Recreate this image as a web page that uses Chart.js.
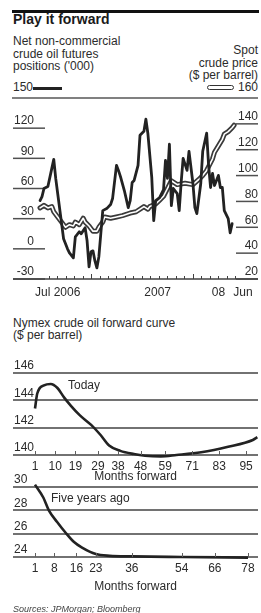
<!DOCTYPE html>
<html>
<head>
<meta charset="utf-8">
<script src="https://cdn.jsdelivr.net/npm/chart.js@4.4.1/dist/chart.umd.min.js"></script>
<style>
  body { margin: 0; background: #fff; width: 261px; height: 613px; position: relative; overflow: hidden;
         font-family: "Liberation Sans", Arial, sans-serif; color: #2b2b2b; }
  .t { position: absolute; white-space: nowrap; font-size: 12px; line-height: 12.6px; }
  .box { position: absolute; left: 0; width: 261px; }
</style>
</head>
<body>
<div style="position:absolute;left:12px;top:10px;width:247px;height:2.5px;background:#111"></div>
<div class="t" style="left:13px;top:11px;font-size:14px;font-weight:bold;line-height:16px;color:#1a1a1a">Play it forward</div>
<div class="t" style="left:13px;top:35px">Net non-commercial<br>crude oil futures<br>positions ('000)</div>
<div class="t" style="right:3px;top:44px;text-align:right">Spot<br>crude price<br>($ per barrel)</div>
<div class="t" style="left:13px;top:81px">150</div>
<div style="position:absolute;left:33px;top:87px;width:29px;height:3px;background:#222"></div>
<div style="position:absolute;left:207px;top:85px;width:25px;height:3px;border:1.5px solid #333;border-radius:3px"></div>
<div class="t" style="right:3px;top:81px">160</div>
<div class="box" style="top:80px;height:225px"><canvas id="futures"></canvas></div>

<div class="t" style="left:13px;top:317px;line-height:12px">Nymex crude oil forward curve<br>($ per barrel)</div>
<div class="box" style="top:355px;height:130px"><canvas id="today"></canvas></div>
<div class="box" style="top:470px;height:125px"><canvas id="fiveyears"></canvas></div>
<div class="t" style="left:68px;top:379px">Today</div>
<div class="t" style="left:51px;top:492px">Five years ago</div>
<div class="t" style="left:13px;top:603px;font-size:9px;font-style:italic;color:#444">Sources: JPMorgan; Bloomberg</div>

<script>
// Net non-commercial positions ('000), weeks from Jul 2006
const posWeeks = [0, 1, 2, 4, 6, 7, 8, 9, 11, 12, 14, 15, 17, 18, 20, 21, 23, 24, 25, 26, 27, 28, 29, 30, 31, 32,
  34, 36, 37, 39, 40, 41, 43, 45, 46, 47, 48, 50, 51, 53, 54, 55, 57, 58, 59, 61, 63, 64, 65, 66, 67, 68, 70, 71,
  72, 73, 75, 76, 78, 79, 80, 82, 83, 85, 86, 87, 88, 89, 91, 92, 93, 94, 96, 97, 98];
const positions = [48, 52, 60, 62, 80, 89, 70, 55, 25, 10, 0, -4, -9, 12, 17, 15, 21, 8, -18, -3, -2, -12, -19, -8, 15, 38,
  40, 44, 50, 83, 78, 72, 58, 41, 48, 66, 68, 83, 113, 117, 129, 115, 71, 28, 48, 51, 59, 88, 70, 104, 43, 60, 55, 38,
  66, 90, 78, 97, 65, 41, 35, 65, 97, 115, 83, 61, 75, 63, 73, 61, 61, 38, 30, 16, 25];

// Spot crude price ($ per barrel)
const spotWeeks = [0, 2, 4, 6, 7, 9, 12, 13, 15, 17, 18, 20, 22, 23, 25, 27, 29, 30, 32, 33, 36, 39, 42, 46, 49,
  53, 55, 56, 59, 61, 63, 65, 67, 70, 74, 78, 81, 83, 85, 88, 89, 91, 93, 94, 96, 98, 99];
const spotPrice = [75, 77, 75, 76, 72, 68, 62, 60, 62, 61, 64, 62, 67, 64, 61, 57, 57, 60, 64, 68, 67, 68, 69, 71, 72,
  76, 74, 76, 78, 81, 84, 90, 96, 93, 94, 93, 97, 100, 104, 113, 118, 123, 128, 132, 134, 137, 139];

const futTickWeeks = [9, 60, 91, 103.5];
const futTickLabels = ['Jul 2006', '2007', '08', 'Jun'];

// Nymex forward curves
const todayMonths = [1, 2, 5, 8, 11, 14, 17, 21, 26, 30, 34, 39, 45, 50, 57, 64, 75, 87, 98, 100];
const todayPrice = [143.4, 144.5, 145.1, 145.2, 144.9, 144.2, 143.6, 142.9, 142.2, 141.5, 140.7, 140.3, 140.07,
  139.95, 139.9, 140, 140.2, 140.6, 141.1, 141.3];
const todayTicks = [1, 10, 19, 29, 38, 48, 59, 71, 83, 95];

const fiveMonths = [1, 4, 6, 9, 12, 15, 18, 23, 28, 36, 54, 78];
const fivePrice = [30.2, 29.1, 28.0, 27.0, 26.1, 25.3, 24.8, 24.25, 24.1, 24.05, 24.0, 23.95];
const fiveTicks = [1, 8, 16, 23, 36, 54, 66, 78];

Chart.defaults.font.family = '"Liberation Sans", Arial, sans-serif';
Chart.defaults.font.size = 12;
Chart.defaults.color = '#2b2b2b';
Chart.defaults.animation = false;
Chart.defaults.devicePixelRatio = 1;
Chart.defaults.plugins.legend.display = false;
Chart.defaults.plugins.tooltip.enabled = false;

const toXY = (xs, ys) => xs.map((v, i) => ({x: v, y: ys[i]}));

// short rules under the tick labels, axis line, month ticks and date labels
const futuresFrame = {
  id: 'futuresFrame',
  beforeDatasetsDraw(chart) {
    const {ctx, chartArea: a, scales: {x, y, y2}} = chart;
    ctx.save();
    ctx.strokeStyle = '#505050';
    ctx.lineWidth = 1.5;
    y.ticks.forEach(t => {
      if (t.value === 150) return;
      const py = y.getPixelForValue(t.value);
      ctx.beginPath(); ctx.moveTo(a.left, py); ctx.lineTo(a.left + 32, py); ctx.stroke();
    });
    y2.ticks.forEach(t => {
      if (t.value === 160) return;
      const py = y2.getPixelForValue(t.value);
      ctx.beginPath(); ctx.moveTo(a.right - 22, py); ctx.lineTo(a.right, py); ctx.stroke();
    });
    ctx.strokeStyle = '#808080';
    ctx.lineWidth = 2;
    ctx.beginPath(); ctx.moveTo(a.left - 1, a.top); ctx.lineTo(a.right, a.top); ctx.stroke();
    ctx.strokeStyle = '#404040';
    ctx.lineWidth = 1.5;
    const by = a.bottom;
    ctx.beginPath(); ctx.moveTo(a.left, by); ctx.lineTo(a.right, by); ctx.stroke();
    ctx.lineWidth = 1;
    for (let m = 1; m <= 23; m++) {
      const px = Math.round(x.getPixelForValue(m * 52 / 12)) + 0.5;
      const len = (m === 6 || m === 18) ? 5 : 3;
      ctx.beginPath(); ctx.moveTo(px, by); ctx.lineTo(px, by - len); ctx.stroke();
    }
    ctx.fillStyle = '#2b2b2b';
    ctx.font = '12px "Liberation Sans", Arial, sans-serif';
    ctx.textAlign = 'center';
    ctx.textBaseline = 'middle';
    futTickWeeks.forEach((w, i) => {
      ctx.fillText(futTickLabels[i], x.getPixelForValue(w), by + 14);
    });
    ctx.restore();
  }
};

const baseTicks = {
  id: 'baseTicks',
  afterDraw(chart) {
    const {ctx, chartArea: a, scales: {x}} = chart;
    ctx.save();
    ctx.strokeStyle = '#606060';
    ctx.lineWidth = 1;
    x.ticks.forEach(t => {
      const px = Math.round(x.getPixelForValue(t.value)) + 0.5;
      ctx.beginPath(); ctx.moveTo(px, a.bottom); ctx.lineTo(px, a.bottom - 4); ctx.stroke();
    });
    ctx.restore();
  }
};

new Chart(document.getElementById('futures'), {
  type: 'line',
  data: {
    datasets: [{
      data: toXY(posWeeks, positions),
      yAxisID: 'y',
      borderColor: '#222',
      borderWidth: 2.8
    }, {
      data: toXY(spotWeeks, spotPrice),
      yAxisID: 'y2',
      borderColor: '#fff',
      borderWidth: 1.6
    }, {
      data: toXY(spotWeeks, spotPrice),
      yAxisID: 'y2',
      borderColor: '#3a3a3a',
      borderWidth: 5
    }]
  },
  options: {
    responsive: true,
    maintainAspectRatio: false,
    layout: { autoPadding: false, padding: { top: 18, left: 13, right: 3, bottom: 0 } },
    elements: { point: { radius: 0 }, line: { tension: 0, borderJoinStyle: 'round', borderCapStyle: 'round' } },
    datasets: { line: { clip: false } },
    scales: {
      x: {
        type: 'linear', min: -13.8, max: 111.2,
        afterFit: s => { s.height = 26; },
        ticks: { display: false },
        grid: { display: false, drawTicks: false },
        border: { display: false }
      },
      y: {
        position: 'left', min: -30, max: 150,
        afterFit: s => { s.width = 0; },
        ticks: { stepSize: 30, mirror: true, crossAlign: 'far', padding: 1, labelOffset: -7,
          callback: v => v === 150 ? '' : v },
        grid: { display: false, drawTicks: false },
        border: { display: false }
      },
      y2: {
        position: 'right', min: 20, max: 160,
        afterFit: s => { s.width = 0; },
        ticks: { stepSize: 20, mirror: true, crossAlign: 'near', padding: 0, labelOffset: -7,
          callback: v => v === 160 ? '' : v },
        grid: { display: false, drawTicks: false },
        border: { display: false }
      }
    }
  },
  plugins: [futuresFrame]
});

function curveChart(id, xs, ys, ticks, xMin, xMax, yMin, yMax, padTop, axisHeight) {
  return new Chart(document.getElementById(id), {
    type: 'line',
    data: {
      datasets: [{
        data: toXY(xs, ys),
        borderColor: '#222',
        borderWidth: 2.6,
        cubicInterpolationMode: 'monotone',
        clip: false
      }]
    },
    options: {
      responsive: true,
      maintainAspectRatio: false,
      layout: { autoPadding: false, padding: { top: padTop, left: 13, right: 3, bottom: 0 } },
      elements: { point: { radius: 0 } },
      scales: {
        x: {
          type: 'linear', min: xMin, max: xMax,
          afterBuildTicks: s => { s.ticks = ticks.map(v => ({value: v})); },
          afterFit: s => { s.height = axisHeight; },
          ticks: { padding: 4, maxRotation: 0, autoSkip: false },
          grid: { display: false, drawTicks: false },
          border: { display: false },
          title: { display: true, text: 'Months forward', padding: { top: 0, bottom: 1 } }
        },
        y: {
          min: yMin, max: yMax,
          afterFit: s => { s.width = 0; },
          ticks: { stepSize: 2, mirror: true, crossAlign: 'far', padding: 1, labelOffset: -7 },
          grid: { color: '#727272', lineWidth: 2, drawTicks: false },
          border: { display: false }
        }
      }
    },
    plugins: [baseTicks]
  });
}

curveChart('today', todayMonths, todayPrice, todayTicks, -8.8, 100.3, 140, 146, 18, 30);
curveChart('fiveyears', fiveMonths, fivePrice, fiveTicks, -6.95, 81.6, 24, 30, 17, 38);
</script>
</body>
</html>
